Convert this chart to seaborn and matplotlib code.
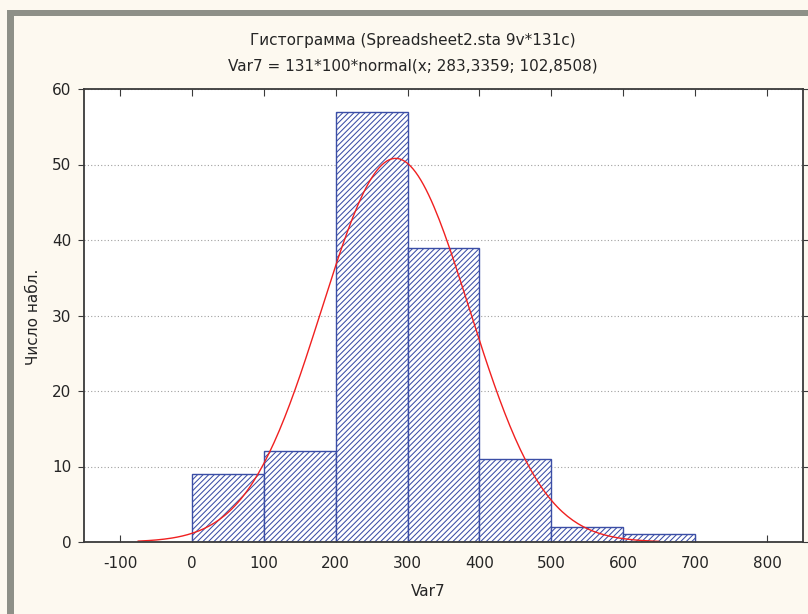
import numpy as np
import pandas as pd
import seaborn as sns
import matplotlib.pyplot as plt
from matplotlib.patches import Rectangle

# histogram data
bin_edges = [0, 100, 200, 300, 400, 500, 600, 700]
counts = [9, 12, 57, 39, 11, 2, 1]
bin_mid = [50, 150, 250, 350, 450, 550, 650]

# fitted normal, parameters from the subtitle
n_obs = 131
bin_w = 100
mu = 283.3359
sigma = 102.8508
curve_from, curve_to = -75, 650

x_ticks = [-100, 0, 100, 200, 300, 400, 500, 600, 700, 800]
y_ticks = [0, 10, 20, 30, 40, 50, 60]

sns.set_style("white")
plt.rcParams['font.family'] = ['DejaVu Sans']
plt.rcParams['axes.unicode_minus'] = False
plt.rcParams['hatch.linewidth'] = 0.75

bg = '#fdf9f0'
txt = '#252525'
fs = 11
fig = plt.figure(figsize=(8.08, 6.14), dpi=100, facecolor=bg)
# grey frame on the left and top like the statistica window
fig.patches.append(Rectangle((7/808, 0), 7/808, 1 - 10/614, transform=fig.transFigure,
                             facecolor='#8e9088', edgecolor='none'))
fig.patches.append(Rectangle((7/808, 1 - 16/614), 1, 6/614, transform=fig.transFigure,
                             facecolor='#8e9088', edgecolor='none'))

ax = fig.add_axes([84/808, 1 - 542/614, (803 - 84)/808, (542 - 89)/614])
ax.set_facecolor('white')

df = pd.DataFrame({'Var7': bin_mid, 'n': counts})
sns.histplot(data=df, x='Var7', weights='n', bins=bin_edges, ax=ax,
             facecolor='white', edgecolor='#3b4ea6', linewidth=1.0,
             hatch='//////', alpha=1)

xs = np.linspace(curve_from, curve_to, 200)
ys = n_obs * bin_w * np.exp(-0.5 * ((xs - mu) / sigma) ** 2) / (sigma * np.sqrt(2 * np.pi))
sns.lineplot(x=xs, y=ys, ax=ax, color='#f02020', linewidth=1.0)

ax.set_xlim(-150, 850)
ax.set_ylim(0, 60)
ax.set_xticks(x_ticks)
ax.set_yticks(y_ticks)
ax.yaxis.grid(True, linestyle=(0, (1, 2)), color='#a0a0a0', linewidth=0.8)
ax.set_axisbelow(True)
for s in ax.spines.values():
    s.set_visible(True)
    s.set_color('#3a3a3a')
    s.set_linewidth(1.3)
ax.tick_params(axis='x', direction='in', top=True, bottom=True, length=5,
               color='#3a3a3a', labelsize=fs, pad=10, labelcolor=txt)
ax.tick_params(axis='y', direction='out', left=True, right=True, length=4,
               color='#3a3a3a', labelsize=fs, pad=5, labelcolor=txt)
ax.set_xlabel('')
ax.set_ylabel('')

fig.text(413/808, 1 - 40/614, 'Гистограмма (Spreadsheet2.sta 9v*131c)',
         ha='center', va='center', fontsize=fs, color=txt)
fig.text(413/808, 1 - 66/614, 'Var7 = 131*100*normal(x; 283,3359; 102,8508)',
         ha='center', va='center', fontsize=fs, color=txt)
fig.text(428/808, 1 - 592/614, 'Var7', ha='center', va='center',
         fontsize=fs, color=txt)
fig.text(33/808, 1 - 317/614, 'Число набл.', ha='center', va='center',
         rotation=90, fontsize=fs, color=txt)

fig.savefig('out.png', dpi=100, facecolor=bg)
